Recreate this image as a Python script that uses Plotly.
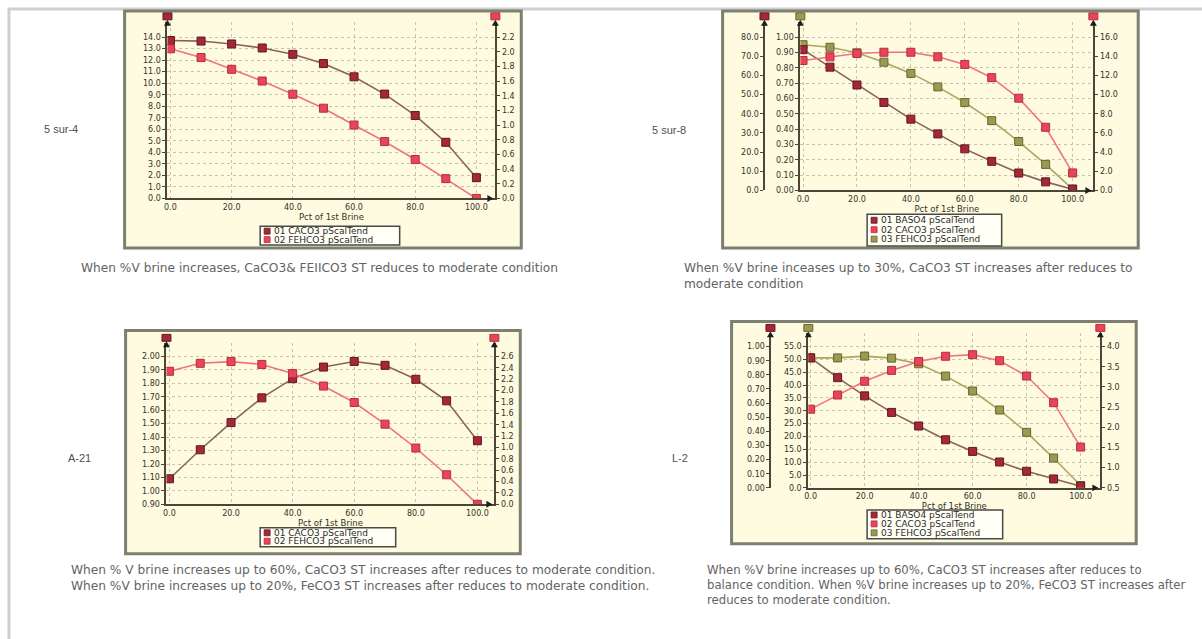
import plotly.graph_objects as go

W, H = 1202, 639
def px(x): return x / W
def py(y): return 1 - y / H

# ---------------- data ----------------
x_pct = [0, 10, 20, 30, 40, 50, 60, 70, 80, 90, 100]

# 5 sur-4
p1_caco3 = [13.7, 13.65, 13.4, 13.05, 12.5, 11.7, 10.55, 9.05, 7.2, 4.87, 1.8]
p1_fehco3 = [2.04, 1.92, 1.76, 1.60, 1.42, 1.23, 1.0, 0.775, 0.53, 0.27, 0.0]
p1_names = ["01 CACO3 pScalTend", "02 FEHCO3 pScalTend"]

# 5 sur-8
p2_baso4 = [73.4, 64.3, 55.0, 45.9, 37.2, 29.5, 21.7, 15.2, 9.1, 4.5, 0.7]
p2_caco3 = [13.55, 13.93, 14.28, 14.41, 14.41, 13.93, 13.14, 11.76, 9.62, 6.59, 1.83]
p2_fehco3 = [0.95, 0.933, 0.897, 0.836, 0.763, 0.675, 0.573, 0.455, 0.319, 0.170, 0.009]
p2_names = ["01 BASO4 pScalTend", "02 CACO3 pScalTend", "03 FEHCO3 pScalTend"]

# A-21
p3_caco3 = [1.09, 1.306, 1.508, 1.692, 1.835, 1.921, 1.963, 1.934, 1.83, 1.67, 1.373]
p3_fehco3 = [2.34, 2.48, 2.51, 2.46, 2.30, 2.08, 1.79, 1.41, 0.99, 0.52, 0.0]
p3_names = ["01 CACO3 pScalTend", "02 FEHCO3 pScalTend"]

# L-2
p4_baso4 = [0.920, 0.780, 0.651, 0.534, 0.438, 0.340, 0.258, 0.183, 0.117, 0.063, 0.012]
p4_caco3 = [2.45, 2.80, 3.14, 3.41, 3.63, 3.76, 3.80, 3.65, 3.27, 2.61, 1.51]
p4_fehco3 = [50.6, 50.6, 51.3, 50.5, 48.3, 43.5, 37.7, 30.3, 21.6, 11.6, 0.9]
p4_names = ["01 BASO4 pScalTend", "02 CACO3 pScalTend", "03 FEHCO3 pScalTend"]

# tick values
x_ticks = [0, 20, 40, 60, 80, 100]
p1_left_ticks = [0, 1, 2, 3, 4, 5, 6, 7, 8, 9, 10, 11, 12, 13, 14]
p1_right_ticks = [0, 0.2, 0.4, 0.6, 0.8, 1.0, 1.2, 1.4, 1.6, 1.8, 2.0, 2.2]
p2_baso4_ticks = [0, 10, 20, 30, 40, 50, 60, 70, 80]
p2_fehco3_ticks = [0, 0.1, 0.2, 0.3, 0.4, 0.5, 0.6, 0.7, 0.8, 0.9, 1.0]
p2_caco3_ticks = [0, 2, 4, 6, 8, 10, 12, 14, 16]
p3_left_ticks = [0.9, 1.0, 1.1, 1.2, 1.3, 1.4, 1.5, 1.6, 1.7, 1.8, 1.9, 2.0]
p3_right_ticks = [0, 0.2, 0.4, 0.6, 0.8, 1.0, 1.2, 1.4, 1.6, 1.8, 2.0, 2.2, 2.4, 2.6]
p4_baso4_ticks = [0, 0.1, 0.2, 0.3, 0.4, 0.5, 0.6, 0.7, 0.8, 0.9, 1.0]
p4_fehco3_ticks = [0, 5, 10, 15, 20, 25, 30, 35, 40, 45, 50, 55]
p4_caco3_ticks = [0.5, 1.0, 1.5, 2.0, 2.5, 3.0, 3.5, 4.0]

panel_labels = ["5 sur-4", "5 sur-8", "A-21", "L-2"]
captions = [
    "When %V brine increases, CaCO3& FEIICO3 ST reduces to moderate condition",
    "When %V brine inceases up to 30%, CaCO3 ST increases after reduces to<br>moderate condition",
    "When % V brine increases up to 60%, CaCO3 ST increases after reduces to moderate condition.<br>"
    "When %V brine increases up to 20%, FeCO3 ST increases after reduces to moderate condition.",
    "When %V brine increases up to 60%, CaCO3 ST increases after reduces to<br>"
    "balance condition. When %V brine increases up to 20%, FeCO3 ST increases after<br>"
    "reduces to moderate condition.",
]
caption_sizes = [12.2, 12.2, 12.2, 11.7]
x_title = "Pct of 1st Brine"

# ---------------- styles ----------------
STY = {
    "01": dict(line="#8a6358", mk="#a2283a", edge="#661620"),
    "02": dict(line="#ef7482", mk="#e94558", edge="#b52e3d"),
    "03": dict(line="#aaa760", mk="#9c9a50", edge="#676633"),
}
AX = "#4b4637"
GRID = "#c9c4a6"
BG = "#fefbe0"
FRAME = "#7d8070"
tickfont = dict(family="DejaVu Sans", size=8, color="#34322a")

fig = go.Figure()

def add(y, xa, ya, key, name):
    s = STY[key]
    fig.add_trace(go.Scatter(
        x=x_pct, y=y, xaxis=xa, yaxis=ya, mode="lines+markers", name=name,
        showlegend=False, line=dict(color=s["line"], width=1.6),
        marker=dict(symbol="square", size=8, color=s["mk"], line=dict(color=s["edge"], width=1)),
    ))

# panel 1
add(p1_caco3, "x", "y", "01", p1_names[0])
add(p1_fehco3, "x", "y2", "02", p1_names[1])
# panel 2
add(p2_baso4, "x2", "y4", "01", p2_names[0])
add(p2_caco3, "x2", "y5", "02", p2_names[1])
add(p2_fehco3, "x2", "y3", "03", p2_names[2])
# panel 3
add(p3_caco3, "x3", "y6", "01", p3_names[0])
add(p3_fehco3, "x3", "y7", "02", p3_names[1])
# panel 4
add(p4_baso4, "x4", "y9", "01", p4_names[0])
add(p4_caco3, "x4", "y10", "02", p4_names[1])
add(p4_fehco3, "x4", "y8", "03", p4_names[2])

base = dict(showline=True, linecolor=AX, linewidth=2, zeroline=False, showgrid=False,
            tickfont=tickfont, fixedrange=True)

def xax(d0, d1, rng, anchor):
    return dict(base, domain=[px(d0), px(d1)], range=rng, anchor=anchor,
                tickvals=x_ticks, tickformat=".1f", ticks="", showgrid=True,
                gridcolor=GRID, griddash="dot", gridwidth=1,
                title=dict(text=x_title, font=dict(family="DejaVu Sans", size=8.5, color="#34322a"), standoff=1))

def yax(top, bottom, rng, ticks, fmt, grid=False, **kw):
    d = dict(base, domain=[py(bottom), py(top)], range=rng, tickvals=ticks, tickformat=fmt,
             ticks="outside", ticklen=3, tickcolor=AX, showgrid=grid,
             gridcolor=GRID, griddash="dot", gridwidth=1)
    d.update(kw)
    return d

# panel geometry (pixels)
P1 = dict(l=164, r=493, t=22, b=200)
P2 = dict(l=799, r=1093, lf=763, t=22, b=192)
P3 = dict(l=163, r=492, t=346, b=508.3)
P4 = dict(l=807, r=1100, lf=769, t=336, b=491.7)

fig.update_layout(
    xaxis=xax(P1["l"], P1["r"], [-0.98, 106.2], "y"),
    yaxis=yax(P1["t"], P1["b"], [0, 15.32], p1_left_ticks, ".1f", grid=True, anchor="x"),
    yaxis2=yax(P1["t"], P1["b"], [0, 2.407], p1_right_ticks, ".1f", overlaying="y", side="right", anchor="x"),

    xaxis2=xax(P2["l"], P2["r"], [-1.0, 107.7], "y3"),
    yaxis3=yax(P2["t"], P2["b"], [0, 1.0989], p2_fehco3_ticks, ".2f", grid=True, anchor="x2"),
    yaxis4=yax(P2["t"], P2["b"], [0, 87.91], p2_baso4_ticks, ".1f", overlaying="y3", anchor="free",
               position=px(P2["lf"]), side="left"),
    yaxis5=yax(P2["t"], P2["b"], [0, 17.58], p2_caco3_ticks, ".1f", overlaying="y3", side="right", anchor="x2"),

    xaxis3=xax(P3["l"], P3["r"], [-0.97, 105.5], "y6"),
    yaxis6=yax(P3["t"], P3["b"], [0.9, 2.098], p3_left_ticks, ".2f", grid=True, anchor="x3"),
    yaxis7=yax(P3["t"], P3["b"], [0, 2.832], p3_right_ticks, ".1f", overlaying="y6", side="right", anchor="x3"),

    xaxis4=xax(P4["l"], P4["r"], [-0.85, 107.3], "y8"),
    yaxis8=yax(P4["t"], P4["b"], [0, 60.14], p4_fehco3_ticks, ".1f", grid=True, anchor="x4"),
    yaxis9=yax(P4["t"], P4["b"], [0, 1.0934], p4_baso4_ticks, ".2f", overlaying="y8", anchor="free",
               position=px(P4["lf"]), side="left"),
    yaxis10=yax(P4["t"], P4["b"], [0.5, 4.327], p4_caco3_ticks, ".1f", overlaying="y8", side="right", anchor="x4"),
)

shapes = []
annos = []

# outer light border
shapes.append(dict(type="rect", xref="paper", yref="paper", x0=px(5), x1=px(1215), y0=py(9), y1=py(660),
                   line=dict(color="#cfcfcf", width=3), fillcolor="rgba(0,0,0,0)", layer="below"))

# frames
for (x0, y0, x1, y1) in [(121, 11, 519, 250), (721, 11, 1138, 250), (122, 333, 518, 558), (730, 324, 1136, 548)]:
    shapes.append(dict(type="rect", xref="paper", yref="paper", x0=px(x0), x1=px(x1), y0=py(y1), y1=py(y0),
                       line=dict(color=FRAME, width=3), fillcolor=BG, layer="below"))

def axis_top(a, T, key):
    s = STY[key]
    shapes.append(dict(type="path", xref="paper", yref="paper",
                       path=f"M {px(a-3.5)},{py(T+4)} L {px(a)},{py(T-2)} L {px(a+3.5)},{py(T+4)} Z",
                       fillcolor="#1e1e1e", line=dict(width=0)))
    shapes.append(dict(type="rect", xref="paper", yref="paper", x0=px(a-4.5), x1=px(a+4.5),
                       y0=py(T-2), y1=py(T-9), fillcolor=s["mk"], line=dict(color=s["edge"], width=1)))

def x_arrow(xe, yb):
    shapes.append(dict(type="path", xref="paper", yref="paper",
                       path=f"M {px(xe-6)},{py(yb-3.5)} L {px(xe)},{py(yb)} L {px(xe-6)},{py(yb+3.5)} Z",
                       fillcolor="#1e1e1e", line=dict(width=0)))

axis_top(P1["l"], P1["t"], "01"); axis_top(P1["r"], P1["t"], "02"); x_arrow(P1["r"] - 2, P1["b"])
axis_top(P2["lf"], P2["t"], "01"); axis_top(P2["l"], P2["t"], "03"); axis_top(P2["r"], P2["t"], "02"); x_arrow(P2["r"] - 2, P2["b"])
axis_top(P3["l"], P3["t"], "01"); axis_top(P3["r"], P3["t"], "02"); x_arrow(P3["r"] - 2, P3["b"])
axis_top(P4["lf"], P4["t"], "01"); axis_top(P4["l"], P4["t"], "03"); axis_top(P4["r"], P4["t"], "02"); x_arrow(P4["r"] - 2, P4["b"])

# manual compact legends
def legend(x0, y0, x1, y1, rows, names):
    shapes.append(dict(type="rect", xref="paper", yref="paper", x0=px(x0), x1=px(x1), y0=py(y1), y1=py(y0),
                       fillcolor="#fffff6", line=dict(color="#4a4a44", width=1.5)))
    for i, (yy, name) in enumerate(zip(rows, names)):
        key = name[:2]
        s = STY[key]
        shapes.append(dict(type="rect", xref="paper", yref="paper", x0=px(x0 + 4), x1=px(x0 + 10),
                           y0=py(yy + 3), y1=py(yy - 3), fillcolor=s["mk"], line=dict(color=s["edge"], width=0.8)))
        annos.append(dict(xref="paper", yref="paper", x=px(x0 + 12), y=py(yy), text=name, showarrow=False,
                          xanchor="left", yanchor="middle",
                          font=dict(family="DejaVu Sans", size=9, color="#2a2a2a")))

legend(257, 228, 397, 247, [233, 241.5], p1_names)
legend(866, 216, 1001, 248, [222, 231.5, 241], p2_names)
legend(257, 532, 393, 551, [537, 545.5], p3_names)
legend(866, 514, 1002, 543, [519, 528, 537], p4_names)

# panel labels
for (x, y), t in zip([(38, 130), (648, 131), (62, 462), (668, 462)], panel_labels):
    annos.append(dict(xref="paper", yref="paper", x=px(x), y=py(y), text=t, showarrow=False,
                      xanchor="left", yanchor="middle",
                      font=dict(family="Liberation Sans", size=11, color="#505050")))

# captions
for (x, y), t, fs in zip([(75, 261), (680, 261), (65, 565), (703, 565)], captions, caption_sizes):
    annos.append(dict(xref="paper", yref="paper", x=px(x), y=py(y), text=t, showarrow=False,
                      xanchor="left", yanchor="top", align="left",
                      font=dict(family="DejaVu Sans", size=fs, color="#636363")))

fig.update_layout(
    width=W, height=H, margin=dict(l=0, r=0, t=0, b=0),
    paper_bgcolor="white", plot_bgcolor="rgba(0,0,0,0)",
    showlegend=False, shapes=shapes, annotations=annos,
)

fig.write_html("out.html")
